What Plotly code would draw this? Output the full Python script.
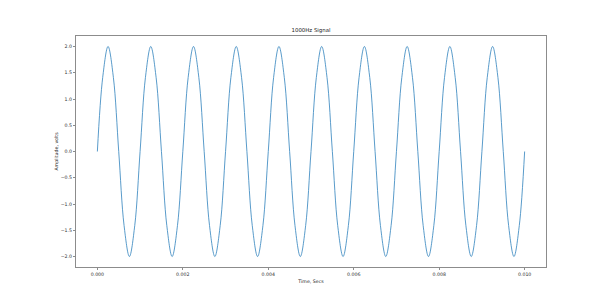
import plotly.graph_objects as go

# Signal samples (8 samples per cycle, 10 cycles)
time_s = [
    0.0, 0.000125, 0.00025, 0.000375, 0.0005, 0.000625, 0.00075, 0.000875,
    0.001, 0.001125, 0.00125, 0.001375, 0.0015, 0.001625, 0.00175, 0.001875,
    0.002, 0.002125, 0.00225, 0.002375, 0.0025, 0.002625, 0.00275, 0.002875,
    0.003, 0.003125, 0.00325, 0.003375, 0.0035, 0.003625, 0.00375, 0.003875,
    0.004, 0.004125, 0.00425, 0.004375, 0.0045, 0.004625, 0.00475, 0.004875,
    0.005, 0.005125, 0.00525, 0.005375, 0.0055, 0.005625, 0.00575, 0.005875,
    0.006, 0.006125, 0.00625, 0.006375, 0.0065, 0.006625, 0.00675, 0.006875,
    0.007, 0.007125, 0.00725, 0.007375, 0.0075, 0.007625, 0.00775, 0.007875,
    0.008, 0.008125, 0.00825, 0.008375, 0.0085, 0.008625, 0.00875, 0.008875,
    0.009, 0.009125, 0.00925, 0.009375, 0.0095, 0.009625, 0.00975, 0.009875,
    0.01,
]
amplitude_v = [
    0.0, 1.41, 2.0, 1.41, 0.0, -1.41, -2.0, -1.41,
    0.0, 1.41, 2.0, 1.41, 0.0, -1.41, -2.0, -1.41,
    0.0, 1.41, 2.0, 1.41, 0.0, -1.41, -2.0, -1.41,
    0.0, 1.41, 2.0, 1.41, 0.0, -1.41, -2.0, -1.41,
    0.0, 1.41, 2.0, 1.41, 0.0, -1.41, -2.0, -1.41,
    0.0, 1.41, 2.0, 1.41, 0.0, -1.41, -2.0, -1.41,
    0.0, 1.41, 2.0, 1.41, 0.0, -1.41, -2.0, -1.41,
    0.0, 1.41, 2.0, 1.41, 0.0, -1.41, -2.0, -1.41,
    0.0, 1.41, 2.0, 1.41, 0.0, -1.41, -2.0, -1.41,
    0.0, 1.41, 2.0, 1.41, 0.0, -1.41, -2.0, -1.41,
    0.0,
]

x_ticks = [0.0, 0.002, 0.004, 0.006, 0.008, 0.010]
x_tick_labels = ["0.000", "0.002", "0.004", "0.006", "0.008", "0.010"]
y_ticks = [-2.0, -1.5, -1.0, -0.5, 0.0, 0.5, 1.0, 1.5, 2.0]
y_tick_labels = ["\u22122.0", "\u22121.5", "\u22121.0", "\u22120.5", "0.0", "0.5", "1.0", "1.5", "2.0"]

FONT = "DejaVu Sans"

fig = go.Figure()
fig.add_trace(go.Scatter(
    x=time_s, y=amplitude_v, mode="lines",
    line=dict(color="#2f82bd", width=0.8, shape="spline", smoothing=1.0),
    showlegend=False, hoverinfo="skip",
))

axis_common = dict(
    showgrid=False, zeroline=False, showline=True, mirror=True,
    linecolor="#8c8c8c", linewidth=1,
    ticks="outside", ticklen=2, tickwidth=1, tickcolor="#8c8c8c",
    tickfont=dict(family=FONT, size=4.7, color="#333333"),
)

fig.update_layout(
    width=606, height=300,
    margin=dict(l=76, r=60, t=36, b=33, pad=0),
    paper_bgcolor="white", plot_bgcolor="white",
    title=dict(text="1000Hz Signal", x=0.5, xref="paper", xanchor="center",
               y=1 - 30.5 / 300, yref="container", yanchor="middle",
               font=dict(family=FONT, size=5.4, color="#222222")),
    xaxis=dict(range=[-0.0005, 0.0105], tickvals=x_ticks, ticktext=x_tick_labels,
               title=dict(text="Time, Secs", standoff=4,
                          font=dict(family=FONT, size=4.7, color="#222222")),
               **axis_common),
    yaxis=dict(range=[-2.2, 2.2], tickvals=y_ticks, ticktext=y_tick_labels,
               title=dict(text="Amplitude, volts", standoff=2,
                          font=dict(family=FONT, size=4.7, color="#222222")),
               **axis_common),
)

fig.write_html("out.html")
